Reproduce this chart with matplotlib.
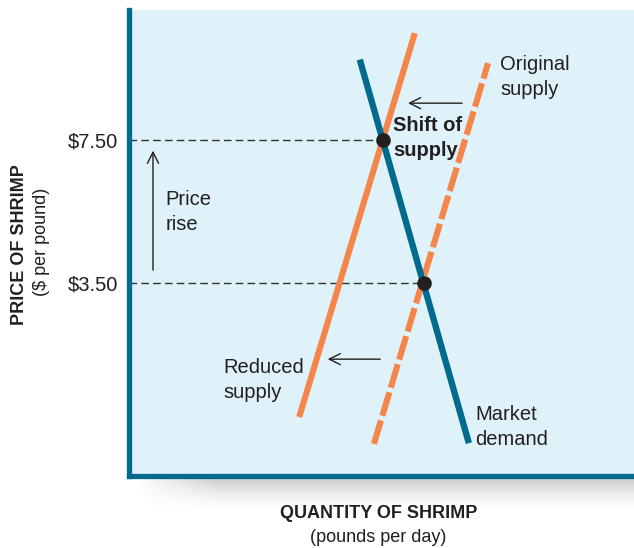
import numpy as np
import matplotlib
matplotlib.use("Agg")
import matplotlib.pyplot as plt

plt.rcParams['font.family'] = ['Liberation Sans', 'DejaVu Sans']

# quantity (schematic units 0-100) and price ($ per pound)
demand_q = [45.7, 67.3]
demand_p = [9.75, -0.98]
reduced_q = [33.7, 56.6]
reduced_p = [-0.25, 10.49]
original_q = [48.5, 71.1]
original_p = [-1.0, 9.65]

eq_q = [50.3, 58.4]
eq_p = [7.5, 3.5]
price_labels = ['$7.50', '$3.50']

teal = '#006b8f'
orange = '#f5854a'
bg = '#dff2fa'
ink = '#231f20'

W, H = 634, 548
fig = plt.figure(figsize=(W / 100, H / 100), dpi=100)

# soft shadow under the bottom axis
sh = fig.add_axes([135 / W, (H - 512) / H, (W - 135) / W, 36 / H], zorder=0)
rows = np.linspace(0, 1, 60)[:, None]
cols = np.linspace(0, 1, 200)[None, :]
alpha = (1 - rows) ** 1.6 * np.clip(cols * 6, 0, 1) * 0.35
img = np.zeros((60, 200, 4))
img[..., :3] = 0.35
img[..., 3] = alpha
sh.imshow(img, aspect='auto', extent=[0, 1, 0, 1])
sh.axis('off')

ax = fig.add_axes([129 / W, (H - 476) / H, (W - 129) / W, 466 / H], zorder=1)
ax.set_facecolor(bg)
ax.set_xlim(0, (W - 129) / 5.05)
ax.set_ylim(3.5 - (476 - 283) / 35.75, 7.5 + (140 - 10) / 35.75)

for s in ['top', 'right']:
    ax.spines[s].set_visible(False)
for s in ['left', 'bottom']:
    ax.spines[s].set_color(teal)
    ax.spines[s].set_linewidth(3.8)

ax.set_xticks([])
ax.set_yticks(eq_p, price_labels, fontsize=14.5, color=ink)
ax.tick_params(axis='y', length=0, pad=8)

# reference dashed lines
for q, p in zip(eq_q, eq_p):
    ax.plot([0, q], [p, p], color='#333333', lw=1.0, dashes=(5.5, 3), zorder=2)

ax.plot(reduced_q, reduced_p, color=orange, lw=4.4, solid_capstyle='butt', zorder=3)
ax.plot(original_q, original_p, color=orange, lw=4.4, dashes=(4.0, 0.8),
        dash_capstyle='butt', zorder=3)
ax.plot(demand_q, demand_p, color=teal, lw=4.6, solid_capstyle='butt', zorder=4)
ax.plot(eq_q, eq_p, 'o', color=ink, ms=9.5, zorder=5)

arrow = dict(arrowstyle='->', color=ink, lw=1.0, mutation_scale=20)
ax.annotate('', xy=(4.75, 7.28), xytext=(4.75, 3.78), arrowprops=arrow)
ax.annotate('', xy=(54.7, 8.53), xytext=(66.5, 8.53), arrowprops=arrow)
ax.annotate('', xy=(38.8, 1.37), xytext=(50.3, 1.37), arrowprops=arrow)

txt = dict(fontsize=14.5, color=ink, va='center', ha='left', linespacing=1.38)
ax.text(7.3, 5.49, 'Price\nrise', **txt)
ax.text(73.5, 9.26, 'Original\nsupply', **txt)
ax.text(52.3, 7.56, 'Shift of\nsupply', fontweight='bold', **txt)
ax.text(18.6, 0.79, 'Reduced\nsupply', **txt)
ax.text(68.5, -0.53, 'Market\ndemand', **txt)

fig.text(20 / W, 1 - 245 / H, 'PRICE OF SHRIMP', rotation=90, fontsize=13,
         fontweight='bold', color=ink, ha='center', va='center')
fig.text(41 / W, 1 - 242 / H, '($ per pound)', rotation=90, fontsize=13,
         color=ink, ha='center', va='center')
fig.text(379 / W, 1 - 513 / H, 'QUANTITY OF SHRIMP', fontsize=13,
         fontweight='bold', color=ink, ha='center', va='center')
fig.text(378 / W, 1 - 537 / H, '(pounds per day)', fontsize=13,
         color=ink, ha='center', va='center')

fig.savefig('out.png', dpi=100, facecolor='white')
